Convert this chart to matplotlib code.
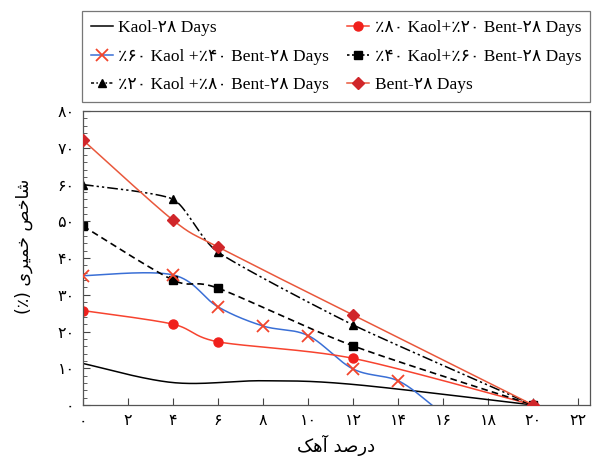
import matplotlib
matplotlib.use("Agg")
import matplotlib.pyplot as plt
from matplotlib.ticker import MultipleLocator, FuncFormatter
import numpy as np

plt.rcParams['font.family'] = ['Liberation Serif', 'DejaVu Sans']

# data
x_kaol = [0, 4, 8, 12, 20]
y_kaol = [11.3, 6.1, 6.6, 5.6, 0]

x_k60 = [0, 4, 6, 8, 10, 12, 14, 15.5]
y_k60 = [35.2, 35.4, 26.7, 21.5, 18.9, 9.8, 6.6, 0]
n_k60_marked = 7

x_k20 = [0, 4, 6, 12, 20]
y_k20 = [60.0, 56.0, 41.6, 21.8, 0]

x_k80 = [0, 4, 6, 12, 20]
y_k80 = [25.7, 22.0, 17.2, 12.7, 0]

x_k40 = [0, 4, 6, 12, 20]
y_k40 = [48.7, 34.0, 31.8, 16.1, 0]

x_bent = [0, 4, 6, 12, 20]
y_bent = [72.1, 50.3, 43.0, 24.5, 0]

labels = [
    'Kaol-۲۸ Days',
    '٪۶۰ Kaol +٪۴۰ Bent-۲۸ Days',
    '٪۲۰ Kaol +٪۸۰ Bent-۲۸ Days',
    '٪۸۰ Kaol+٪۲۰ Bent-۲۸ Days',
    '٪۴۰ Kaol+٪۶۰ Bent-۲۸ Days',
    'Bent-۲۸ Days',
]

# presentation forms, visual order (matplotlib has no bidi shaping)
xlabel = '\uFB8F\uFEEB\uFE81 \uFEAA\uFEBB\uFEAD\uFEA9'
ylabel = '(٪) \uFBFC\uFEAE\uFBFF\uFEE4\uFEA7 \uFEBA\uFEA7\uFE8E\uFEB7'

FA = str.maketrans('0123456789', '۰۱۲۳۴۵۶۷۸۹')


def fa(v, pos=None):
    return str(int(round(v))).translate(FA)


def smooth(x, y, n=40, k=7):
    # excel-like smoothed line (catmull-rom bezier through the points)
    p = np.column_stack([x, y]).astype(float)
    out = [p[0]]
    for i in range(len(p) - 1):
        p0 = p[i - 1] if i > 0 else p[i]
        p3 = p[i + 2] if i + 2 < len(p) else p[i + 1]
        c1 = p[i] + (p[i + 1] - p0) / k
        c2 = p[i + 1] - (p3 - p[i]) / k
        t = np.linspace(0, 1, n)[1:, None]
        seg = ((1 - t) ** 3 * p[i] + 3 * (1 - t) ** 2 * t * c1
               + 3 * (1 - t) * t ** 2 * c2 + t ** 3 * p[i + 1])
        out.extend(seg)
    out = np.array(out)
    return out[:, 0], out[:, 1]


fig = plt.figure(figsize=(5.94, 4.57), dpi=100)
ax = fig.add_axes([0.1397, 0.1138, 0.8536, 0.6432])

DDOT = (7, 2, 1.5, 2, 1.5, 2)

h = []
sx, sy = smooth(x_kaol, y_kaol, k=6)
ax.plot(sx, sy, color='black', lw=1.1)
h.append(ax.plot([], [], color='black', lw=1.1)[0])

sx, sy = smooth(x_k60, y_k60, k=6)
ax.plot(sx, sy, color='#3a6fd6', lw=1.1, zorder=2)
ax.plot(x_k60[:n_k60_marked], y_k60[:n_k60_marked], ls='none', marker='x',
        ms=8, mew=1.3, color='#f2452c', zorder=3)
h.append(ax.plot([], [], color='#3a6fd6', lw=1.1, marker='x', ms=8,
                 mew=1.3, mec='#f2452c')[0])

sx, sy = smooth(x_k20, y_k20, k=10)
ax.plot(sx, sy, color='black', lw=1.1, dashes=DDOT)
ax.plot(x_k20, y_k20, ls='none', marker='^', ms=6, color='black')
h.append(ax.plot([], [], color='black', lw=1.1, dashes=(2, 1.5, 1, 1.5),
                 marker='^', ms=6)[0])

sx, sy = smooth(x_k80, y_k80)
ax.plot(sx, sy, color='#f7432f', lw=1.1)
ax.plot(x_k80, y_k80, ls='none', marker='o', ms=6.5, color='#f0201c')
h.append(ax.plot([], [], color='#f7432f', lw=1.1, marker='o', ms=6.5,
                 mfc='#f0201c', mec='#f0201c')[0])

sx, sy = smooth(x_k40, y_k40)
ax.plot(sx, sy, color='black', lw=1.2, dashes=(4, 2.5))
ax.plot(x_k40, y_k40, ls='none', marker='s', ms=6, color='black')
h.append(ax.plot([], [], color='black', lw=1.2, dashes=(1.5, 1.5), marker='s',
                 ms=6)[0])

sx, sy = smooth(x_bent, y_bent)
ax.plot(sx, sy, color='#e9583c', lw=1.1)
ax.plot(x_bent, y_bent, ls='none', marker='D', ms=6.5, color='#d0262a',
        zorder=4)
h.append(ax.plot([], [], color='#e9583c', lw=1.1, marker='D', ms=6.5,
                 mfc='#d0262a', mec='#d0262a')[0])

ax.set_xlim(0, 22.53)
ax.set_ylim(0, 80)
ax.xaxis.set_major_locator(MultipleLocator(2))
ax.yaxis.set_major_locator(MultipleLocator(10))
ax.yaxis.set_minor_locator(MultipleLocator(2))
ax.xaxis.set_major_formatter(FuncFormatter(fa))
ax.yaxis.set_major_formatter(FuncFormatter(fa))
ax.tick_params(axis='both', which='both', direction='in', labelsize=11.5,
               color='#444444')
ax.tick_params(axis='both', which='major', length=5, pad=6)
ax.tick_params(axis='y', which='minor', length=3)
ax.tick_params(top=False, right=False)
for s in ax.spines.values():
    s.set_color('#555555')
    s.set_linewidth(0.9)

ax.set_xlabel(xlabel, family='DejaVu Sans', fontsize=13, labelpad=4)
ax.set_ylabel(ylabel, family='DejaVu Sans', fontsize=12.5)
ax.yaxis.set_label_coords(-0.098, 0.54)

leg = fig.legend(h, labels, ncol=2, loc='lower left', mode='expand',
                 bbox_to_anchor=(0.138, 0.777, 0.855, 0.197),
                 bbox_transform=fig.transFigure, fontsize=12.5,
                 fancybox=False, frameon=True, edgecolor='#555555',
                 handlelength=1.3, handletextpad=0.3, borderpad=0.5,
                 labelspacing=0.72, columnspacing=0.3, borderaxespad=0)
leg.get_frame().set_linewidth(0.9)

fig.savefig('out.png', dpi=100)
